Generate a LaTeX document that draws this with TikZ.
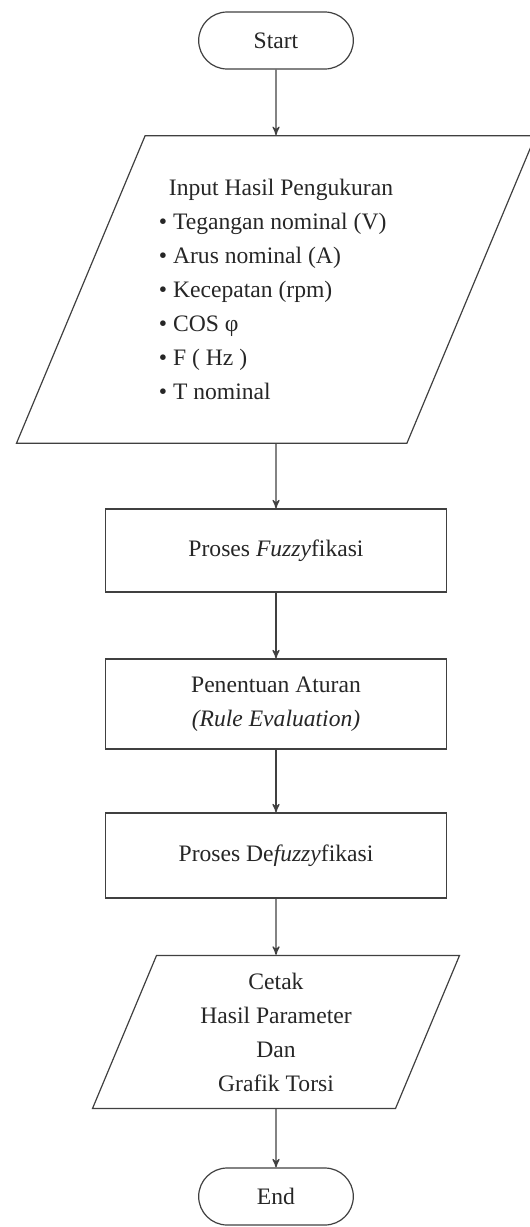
\documentclass[tikz,border=0pt]{standalone}
\usepackage{fontspec}
\setmainfont{Liberation Serif}
\usetikzlibrary{arrows,shapes,positioning}

\begin{document}
\begin{tikzpicture}[node distance=2cm,>=stealth',auto,line width=0.6pt]
        \tikzstyle{every node}=[font=\fontsize{11.8}{17}\selectfont,text=black!85]
        \tikzstyle{terminal}=[rounded rectangle,draw=black!75,minimum width=84pt,minimum height=28.5pt]
        \tikzstyle{io}=[trapezium,trapezium left angle=67.3,trapezium right angle=112.7,trapezium stretches body=true,draw=black!75,align=center]
        \tikzstyle{process}=[rectangle,draw=black!75,minimum width=170.5pt,align=center]
        \tikzstyle{flow}=[<-,draw=black!75]

        \useasboundingbox (0,0) rectangle (265pt,-613.5pt);

        \node [terminal] (start) at (138pt,-20.25pt) {Start};
        \node [io, minimum width=259.5pt, minimum height=152.5pt, inner ysep=21.7pt, align=left] (input) [below of=start, node distance=124.5pt]
            {\hspace*{5pt}Input Hasil Pengukuran\\
             \textbullet~Tegangan nominal (V)\\
             \textbullet~Arus nominal (A)\\
             \textbullet~Kecepatan (rpm)\\
             \textbullet~COS φ\\
             \textbullet~F ( Hz )\\
             \textbullet~T nominal}
            edge [flow] (start);
        \node [process, minimum height=41.5pt] (fuzz) [below of=input, node distance=130.5pt]
            {Proses \textit{Fuzzy}fikasi}                  %fuzzyfikasi
            edge [flow] (input);
        \node [process, minimum height=45pt] (rule) [below of=fuzz, node distance=76.75pt]
            {Penentuan Aturan\\\textit{(Rule Evaluation)}}
            edge [flow] (fuzz);
        \node [process, minimum height=42.5pt] (defuzz) [below of=rule, node distance=75.75pt]
            {Proses De\textit{fuzzy}fikasi}                %defuzzyfikasi
            edge [flow] (rule);
        \node [io, minimum width=183.5pt, minimum height=75pt, inner ysep=8.6pt] (output) [below of=defuzz, node distance=88.25pt]
            {Cetak\\Hasil Parameter\\Dan\\Grafik Torsi}
            edge [flow] (defuzz);
        \node [terminal] (end) [below of=output, node distance=82.25pt] {End}
            edge [flow] (output);
\end{tikzpicture}
\end{document}
